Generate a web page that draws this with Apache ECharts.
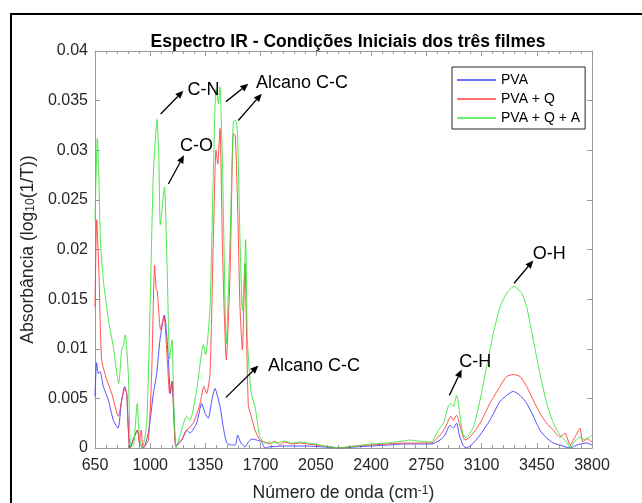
<!DOCTYPE html>
<html>
<head>
<meta charset="utf-8">
<script src="https://cdn.jsdelivr.net/npm/echarts@6/dist/echarts.min.js"></script>
<style>html,body{margin:0;padding:0;background:#fff}#c{width:642px;height:503px}</style>
</head>
<body>
<div id="c"></div>
<script>
// ---------- DATA ----------
const seriesNames = ['PVA', 'PVA + Q', 'PVA + Q + A'];
const xTickValues = [650, 1000, 1350, 1700, 2050, 2400, 2750, 3100, 3450, 3800];
const yTickValues = [0, 0.005, 0.01, 0.015, 0.02, 0.025, 0.03, 0.035, 0.04];

// [wavenumber (cm^-1), absorbance]
const pva = [[650,0.0052],[660,0.0086],[671,0.0075],[682,0.0077],[703,0.0062],[735,0.0048],[766,0.0028],[796,0.0020],[819,0.0048],[838,0.0062],[851,0.0055],[872,0.0000],[918,0.0018],[935,0.0003],[956,0.0000],[988,0.0015],[1020,0.0055],[1041,0.0075],[1062,0.0109],[1090,0.0134],[1102,0.0119],[1115,0.0089],[1128,0.0055],[1138,0.0067],[1151,0.0032],[1163,0.0003],[1199,0.0008],[1231,0.0018],[1252,0.0015],[1294,0.0025],[1326,0.0045],[1347,0.0035],[1368,0.0030],[1390,0.0048],[1410,0.0060],[1442,0.0042],[1463,0.0021],[1485,0.0005],[1516,0.0003],[1540,0.0003],[1554,0.0013],[1575,0.0005],[1601,0.0001],[1622,0.0006],[1643,0.0009],[1675,0.0008],[1706,0.0006],[1727,0.0000],[1750,0.0001],[1850,0.0002],[2000,0.0002],[2100,0.0001],[2200,0.0000],[2300,0.0001],[2400,0.0002],[2500,0.0003],[2600,0.0004],[2700,0.0004],[2780,0.0004],[2837,0.0008],[2868,0.0013],[2900,0.0023],[2921,0.0020],[2942,0.0025],[2959,0.0013],[2985,0.0002],[3006,0.0000],[3048,0.0005],[3090,0.0013],[3153,0.0028],[3217,0.0047],[3259,0.0053],[3301,0.0057],[3344,0.0053],[3386,0.0045],[3428,0.0032],[3470,0.0018],[3513,0.0010],[3555,0.0005],[3597,0.0003],[3661,0.0000],[3703,0.0003],[3766,0.0005],[3800,0.0003]];

const pvaQ = [[650,0.0142],[661,0.0230],[675,0.0176],[692,0.0089],[724,0.0069],[756,0.0055],[798,0.0032],[819,0.0048],[840,0.0060],[851,0.0055],[872,0.0000],[920,0.0018],[931,0.0005],[943,0.0018],[956,0.0000],[988,0.0008],[1009,0.0075],[1028,0.0184],[1037,0.0161],[1045,0.0158],[1066,0.0119],[1087,0.0133],[1108,0.0089],[1123,0.0055],[1138,0.0067],[1151,0.0025],[1163,0.0001],[1199,0.0008],[1231,0.0018],[1273,0.0025],[1316,0.0045],[1340,0.0062],[1358,0.0055],[1379,0.0075],[1400,0.0210],[1417,0.0300],[1428,0.0286],[1442,0.0322],[1459,0.0193],[1482,0.0089],[1506,0.0176],[1527,0.0317],[1539,0.0315],[1554,0.0243],[1569,0.0142],[1584,0.0099],[1601,0.0186],[1611,0.0109],[1622,0.0042],[1635,0.0035],[1664,0.0018],[1696,0.0008],[1727,0.0006],[1760,0.0004],[1790,0.0007],[1820,0.0003],[1850,0.0006],[1900,0.0004],[1950,0.0005],[2000,0.0004],[2050,0.0003],[2100,0.0002],[2150,0.0001],[2200,0.0000],[2250,0.0001],[2300,0.0002],[2400,0.0003],[2500,0.0004],[2600,0.0005],[2700,0.0005],[2780,0.0005],[2837,0.0013],[2868,0.0020],[2906,0.0032],[2921,0.0028],[2942,0.0033],[2959,0.0025],[2995,0.0008],[3027,0.0011],[3090,0.0025],[3153,0.0045],[3217,0.0062],[3259,0.0072],[3301,0.0074],[3344,0.0072],[3386,0.0062],[3428,0.0048],[3470,0.0035],[3513,0.0025],[3555,0.0018],[3597,0.0011],[3629,0.0015],[3661,0.0003],[3692,0.0011],[3724,0.0020],[3741,0.0006],[3766,0.0010],[3800,0.0006]];

const pvaQA = [[650,0.0230],[665,0.0312],[675,0.0270],[684,0.0210],[703,0.0169],[735,0.0129],[766,0.0102],[800,0.0065],[819,0.0099],[832,0.0105],[842,0.0114],[861,0.0075],[876,0.0001],[895,0.0003],[918,0.0045],[931,0.0011],[950,0.0000],[978,0.0025],[999,0.0142],[1020,0.0277],[1043,0.0331],[1055,0.0290],[1064,0.0225],[1090,0.0263],[1108,0.0176],[1123,0.0090],[1138,0.0109],[1150,0.0042],[1165,0.0000],[1199,0.0018],[1231,0.0032],[1252,0.0028],[1294,0.0058],[1337,0.0104],[1351,0.0094],[1379,0.0142],[1400,0.0277],[1417,0.0362],[1432,0.0347],[1442,0.0364],[1459,0.0277],[1482,0.0105],[1506,0.0210],[1527,0.0329],[1542,0.0330],[1554,0.0314],[1569,0.0210],[1584,0.0139],[1597,0.0176],[1605,0.0210],[1616,0.0109],[1640,0.0055],[1664,0.0042],[1680,0.0025],[1696,0.0011],[1727,0.0005],[1760,0.0006],[1800,0.0005],[1850,0.0007],[1900,0.0005],[1950,0.0006],[2000,0.0005],[2050,0.0004],[2100,0.0002],[2150,0.0001],[2200,0.0000],[2250,0.0001],[2300,0.0002],[2400,0.0004],[2500,0.0005],[2600,0.0007],[2650,0.0008],[2700,0.0007],[2780,0.0006],[2826,0.0018],[2858,0.0025],[2889,0.0042],[2906,0.0045],[2921,0.0042],[2942,0.0053],[2959,0.0038],[2980,0.0015],[3001,0.0010],[3048,0.0021],[3090,0.0048],[3132,0.0082],[3175,0.0116],[3217,0.0142],[3259,0.0156],[3306,0.0163],[3354,0.0156],[3386,0.0142],[3428,0.0109],[3470,0.0075],[3513,0.0045],[3555,0.0025],[3597,0.0013],[3639,0.0006],[3661,0.0000],[3682,0.0005],[3724,0.0011],[3756,0.0008],[3800,0.0013]];

// annotations (text, anchor in data space)
const annoLabels = ['C-N', 'Alcano C-C', 'C-O', 'Alcano C-C', 'C-H', 'O-H'];
const annoAnchors = [[1237,0.0361],[1670,0.0368],[1189,0.0304],[1746,0.0083],[2959,0.0087],[3424,0.0195]];
const arrowStarts = [[1066,0.03365],[1480,0.0349],[1558,0.0330],[1115,0.0266],[1480,0.0051],[2896,0.0053],[3306,0.0166]];
const arrowEnds   = [[1210,0.0360],[1622,0.0367],[1707,0.0357],[1214,0.0295],[1685,0.0083],[2974,0.0079],[3428,0.0189]];

// ---------- CHART ----------
const FONT = 'Liberation Sans, Arial, sans-serif';
const AX = '#9a9a9a';
const LBL = '#262626';
const colors = ['#3d3dff', '#ff3d3d', '#3ae63a'];

const chart = echarts.init(document.getElementById('c'), null, {renderer: 'canvas'});

function xAxisCfg(pos) {
  return {
    type: 'value', position: pos, min: 650, max: 3800, interval: 350,
    axisLine: {show: true, onZero: false, lineStyle: {color: AX, width: 1}},
    axisTick: {show: true, inside: true, length: 5, lineStyle: {color: AX}},
    minorTick: {show: true, splitNumber: 5, length: 3, lineStyle: {color: AX}},
    splitLine: {show: false},
    axisLabel: pos === 'bottom'
      ? {show: true, fontSize: 16, color: LBL, fontFamily: FONT, margin: 10, showMinLabel: true, showMaxLabel: true,
         formatter: v => String(v)}
      : {show: false}
  };
}
function yAxisCfg(pos) {
  return {
    type: 'value', position: pos, min: 0, max: 0.04, interval: 0.005,
    axisLine: {show: true, onZero: false, lineStyle: {color: AX, width: 1}},
    axisTick: {show: true, inside: true, length: 5, lineStyle: {color: AX}},
    splitLine: {show: false},
    axisLabel: pos === 'left'
      ? {show: true, fontSize: 16, color: LBL, fontFamily: FONT, margin: 7,
         formatter: v => String(+v.toFixed(3))}
      : {show: false}
  };
}

const NF = 17.6, SF = 12;
const xB = xAxisCfg('bottom');
xB.name = '{a|Número de onda (cm}{p|-1}{a|)}';
xB.nameLocation = 'middle';
xB.nameGap = 31;
xB.nameTextStyle = {
  color: LBL, fontFamily: FONT, fontSize: NF,
  rich: {
    a: {fontSize: NF, lineHeight: NF, verticalAlign: 'bottom', padding: [5, 0, 0, 0], color: LBL, fontFamily: FONT},
    p: {fontSize: SF, lineHeight: SF, verticalAlign: 'top', color: LBL, fontFamily: FONT}
  }
};
const yL = yAxisCfg('left');
yL.name = '{a|Absorbância (log}{s|10}{a|(1/T))}';
yL.nameLocation = 'middle';
yL.nameGap = 52;
yL.nameTextStyle = {
  color: LBL, fontFamily: FONT, fontSize: NF,
  rich: {
    a: {fontSize: NF, lineHeight: NF, verticalAlign: 'top', color: LBL, fontFamily: FONT},
    s: {fontSize: SF, lineHeight: SF, verticalAlign: 'bottom', padding: [9, 0, 0, 0], color: LBL, fontFamily: FONT}
  }
};

const dataSets = [pva, pvaQ, pvaQA];

chart.setOption({
  animation: false,
  backgroundColor: '#fff',
  title: {
    text: 'Espectro IR - Condições Iniciais dos três filmes',
    left: 343, top: 28, textAlign: 'center',
    textStyle: {fontSize: 17.5, fontWeight: 'bold', color: '#000', fontFamily: FONT}
  },
  grid: {left: 95, right: 50, top: 51, bottom: 55, containLabel: false, outerBoundsMode: 'none'},
  legend: {
    orient: 'vertical', left: 452, top: 67,
    padding: [6, 5, 4, 5], itemGap: 5, itemWidth: 39, itemHeight: 1.5,
    icon: 'rect',
    borderColor: '#262626', borderWidth: 1, backgroundColor: '#fff',
    textStyle: {fontSize: 14, lineHeight: 14, color: '#000', fontFamily: FONT},
    data: seriesNames
  },
  xAxis: [xB, xAxisCfg('top')],
  yAxis: [yL, yAxisCfg('right')],
  series: seriesNames.map((n, i) => ({
    name: n, type: 'line', xAxisIndex: 0, yAxisIndex: 0,
    data: dataSets[i], symbol: 'none', showSymbol: false, smooth: 0.2,
    lineStyle: {color: colors[i], width: 0.9}, itemStyle: {color: colors[i]},
    z: 2 + i
  }))
});

// annotations positioned through the chart's own coordinate system
const gfx = [];
// outer frame lines (figure border)
gfx.push({type: 'line', shape: {x1: 11, y1: 14, x2: 642, y2: 14}, style: {stroke: '#000', lineWidth: 2}, silent: true});
gfx.push({type: 'line', shape: {x1: 11, y1: 13, x2: 11, y2: 503}, style: {stroke: '#000', lineWidth: 2}, silent: true});

for (let i = 0; i < arrowStarts.length; i++) {
  const p0 = chart.convertToPixel({gridIndex: 0}, arrowStarts[i]);
  const p1 = chart.convertToPixel({gridIndex: 0}, arrowEnds[i]);
  const dx = p1[0] - p0[0], dy = p1[1] - p0[1];
  const L = Math.hypot(dx, dy), ux = dx / L, uy = dy / L;
  const hl = 8, hw = 3.5;
  const bx = p1[0] - ux * hl, by = p1[1] - uy * hl;
  gfx.push({type: 'line', shape: {x1: p0[0], y1: p0[1], x2: bx, y2: by}, style: {stroke: '#000', lineWidth: 1.3}, z: 10});
  gfx.push({type: 'polygon', shape: {points: [[p1[0], p1[1]], [bx - uy * hw, by + ux * hw], [bx + uy * hw, by - ux * hw]]}, style: {fill: '#000'}, z: 10});
}
for (let i = 0; i < annoLabels.length; i++) {
  const p = chart.convertToPixel({gridIndex: 0}, annoAnchors[i]);
  gfx.push({type: 'text', x: p[0], y: p[1], z: 10,
    style: {text: annoLabels[i], fill: '#000', font: '18px ' + FONT, textAlign: 'left', textVerticalAlign: 'middle'}});
}
chart.setOption({graphic: gfx});
</script>
</body>
</html>
